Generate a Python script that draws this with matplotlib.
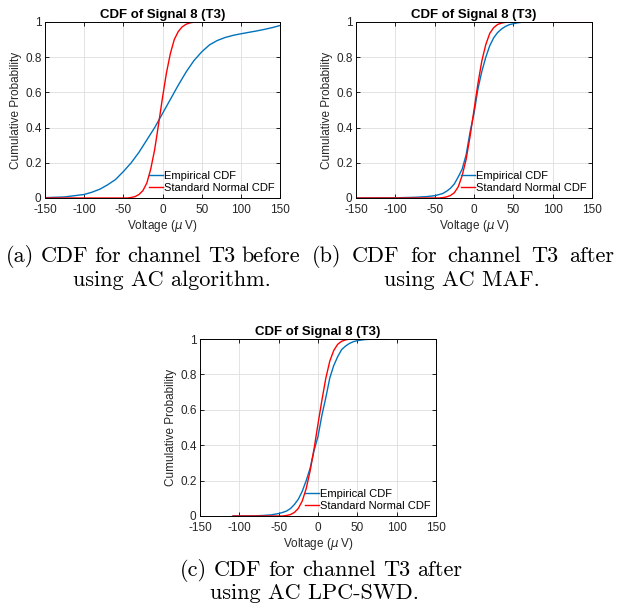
import matplotlib
matplotlib.use("Agg")
import matplotlib.pyplot as plt
from matplotlib.ticker import FuncFormatter

plt.rcParams["axes.unicode_minus"] = False

# ---- data (voltage in uV, cumulative probability) ----
# (a) before AC
a_emp_x = [-150, -125, -100, -90, -80, -70, -60, -50, -40, -30, -20, -10, 0, 10, 20, 30, 40,
           50, 60, 70, 80, 90, 100, 110, 120, 130, 140, 150]
a_emp_y = [0.002, 0.006, 0.02, 0.033, 0.05, 0.075, 0.105, 0.15, 0.20, 0.26, 0.33, 0.40, 0.48,
           0.56, 0.64, 0.715, 0.78, 0.83, 0.87, 0.895, 0.912, 0.924, 0.933, 0.941, 0.949,
           0.958, 0.968, 0.98]
a_norm_x = [-150, -45, -40, -35, -30, -25, -20, -15, -10, -5, 0, 5, 10, 15, 20, 25, 30, 35, 40,
            45, 150]
a_norm_y = [0.0, 0.0, 0.003, 0.008, 0.02, 0.042, 0.085, 0.165, 0.275, 0.42, 0.57, 0.71, 0.82,
            0.9, 0.945, 0.972, 0.987, 0.995, 0.999, 1.0, 1.0]

# (b) after AC MAF
b_emp_x = [-150, -100, -75, -60, -50, -40, -35, -30, -25, -20, -15, -10, -5, 0, 5, 10, 15,
           20, 25, 30, 35, 40, 45, 50, 55, 60, 70, 150]
b_emp_y = [0.0, 0.001, 0.004, 0.008, 0.013, 0.025, 0.038, 0.055, 0.08, 0.12, 0.165, 0.245,
           0.375, 0.48, 0.62, 0.72, 0.80, 0.865, 0.91, 0.94, 0.96, 0.975, 0.985, 0.99,
           0.995, 0.998, 1.0, 1.0]
b_norm_x = [-150, -45, -40, -35, -30, -25, -20, -15, -10, -5, 0, 5, 10, 15, 20, 25, 30, 35,
            40, 45, 150]
b_norm_y = [0.0, 0.0, 0.002, 0.006, 0.014, 0.03, 0.064, 0.128, 0.22, 0.35, 0.5, 0.65, 0.78,
            0.872, 0.935, 0.968, 0.986, 0.994, 0.998, 1.0, 1.0]

# (c) after AC LPC-SWD
c_emp_x = [-108, -80, -70, -60, -50, -45, -40, -35, -30, -25, -20, -15, -10, -5, 0, 5, 10,
           15, 20, 25, 30, 35, 40, 45, 50, 60, 70, 90]
c_emp_y = [0.0, 0.001, 0.003, 0.006, 0.014, 0.02, 0.028, 0.042, 0.065, 0.095, 0.14, 0.2,
           0.27, 0.37, 0.45, 0.57, 0.67, 0.78, 0.85, 0.90, 0.94, 0.96, 0.975, 0.985, 0.991,
           0.997, 0.999, 1.0]
c_norm_x = [-108, -45, -40, -35, -30, -25, -20, -15, -10, -5, 0, 5, 10, 15, 20, 25, 30, 35,
            40, 45, 90]
c_norm_y = [0.0, 0.0, 0.003, 0.008, 0.02, 0.043, 0.085, 0.155, 0.255, 0.38, 0.52, 0.655,
            0.78, 0.875, 0.935, 0.97, 0.987, 0.995, 0.999, 1.0, 1.0]

x_ticks = [-150, -100, -50, 0, 50, 100, 150]
y_ticks = [0, 0.2, 0.4, 0.6, 0.8, 1]
title = "CDF of Signal 8 (T3)"
legend_labels = ["Empirical CDF", "Standard Normal CDF"]
captions = [
    ("(a) CDF for channel T3 before", "using AC algorithm."),
    ("(b) CDF for channel T3 after", "using AC MAF."),
    ("(c) CDF for channel T3 after", "using AC LPC-SWD."),
]

BLUE = "#0072BD"
RED = "#FF0000"
SANS = ["Liberation Sans", "DejaVu Sans"]
INK = "#262626"

W, H = 621, 612
fig = plt.figure(figsize=(W / 100, H / 100), dpi=100)


def px_axes(left, top, right, bottom):
    return fig.add_axes([left / W, 1 - bottom / H, (right - left) / W, (bottom - top) / H])


def cdf_panel(ax, ex, ey, nx, ny):
    ax.plot(ex, ey, color=BLUE, lw=1.0, label=legend_labels[0])
    ax.plot(nx, ny, color=RED, lw=1.0, label=legend_labels[1])
    ax.set_xlim(-150, 150)
    ax.set_ylim(0, 1)
    ax.set_xticks(x_ticks)
    ax.set_yticks(y_ticks)
    ax.yaxis.set_major_formatter(FuncFormatter(lambda v, _: f"{v:g}"))
    ax.grid(True, color="#dedede", lw=0.6)
    ax.set_axisbelow(True)
    ax.tick_params(direction="in", top=True, right=True, length=3, width=0.6,
                   labelsize=8.5, labelcolor=INK, pad=2.5)
    ax.tick_params(axis="x", pad=4)
    for lab in ax.get_xticklabels() + ax.get_yticklabels():
        lab.set_family(SANS)
    for s in ax.spines.values():
        s.set_linewidth(0.7)
    ax.set_title(title, fontsize=9.5, fontweight="bold", family=SANS, pad=3)
    ax.set_xlabel("Voltage ($\\mu$ V)", fontsize=8.5, family=SANS, color=INK, labelpad=1.5)
    ax.set_ylabel("Cumulative Probability", fontsize=8.5, family=SANS, color=INK, labelpad=2.5)
    ax.legend(loc="lower right", prop={"family": SANS, "size": 8}, frameon=False,
              handlelength=1.2, handletextpad=0.15, borderpad=0.2, labelspacing=0.15,
              borderaxespad=0.25)


ax_a = px_axes(45, 22, 280, 198)
cdf_panel(ax_a, a_emp_x, a_emp_y, a_norm_x, a_norm_y)
ax_b = px_axes(356, 22, 592, 198)
cdf_panel(ax_b, b_emp_x, b_emp_y, b_norm_x, b_norm_y)
ax_c = px_axes(200, 339, 436, 516)
cdf_panel(ax_c, c_emp_x, c_emp_y, c_norm_x, c_norm_y)

# sub-figure captions (LaTeX look): first line justified, second centred
CAP = dict(family="cmr10", fontsize=16)
renderer = fig.canvas.get_renderer()


def justified(line, x0, x1, y):
    words = line.split()
    texts = [fig.text(0, 1 - y / H, w, ha="left", va="center", **CAP) for w in words]
    widths = [t.get_window_extent(renderer).width for t in texts]
    gap = (x1 - x0 - sum(widths)) / (len(words) - 1)
    x = x0
    for t, wd in zip(texts, widths):
        t.set_x(x / W)
        x += wd + gap


cap_line1 = [(6, 300, 256), (312, 614, 256), (180, 462, 570)]
cap_line2 = [(172, 280), (462, 280), (314, 593)]
for (l1, l2), (x0, x1, y1), (cx, y2) in zip(captions, cap_line1, cap_line2):
    justified(l1, x0, x1, y1)
    fig.text(cx / W, 1 - y2 / H, l2, ha="center", va="center", **CAP)

fig.savefig("out.png", dpi=100)
